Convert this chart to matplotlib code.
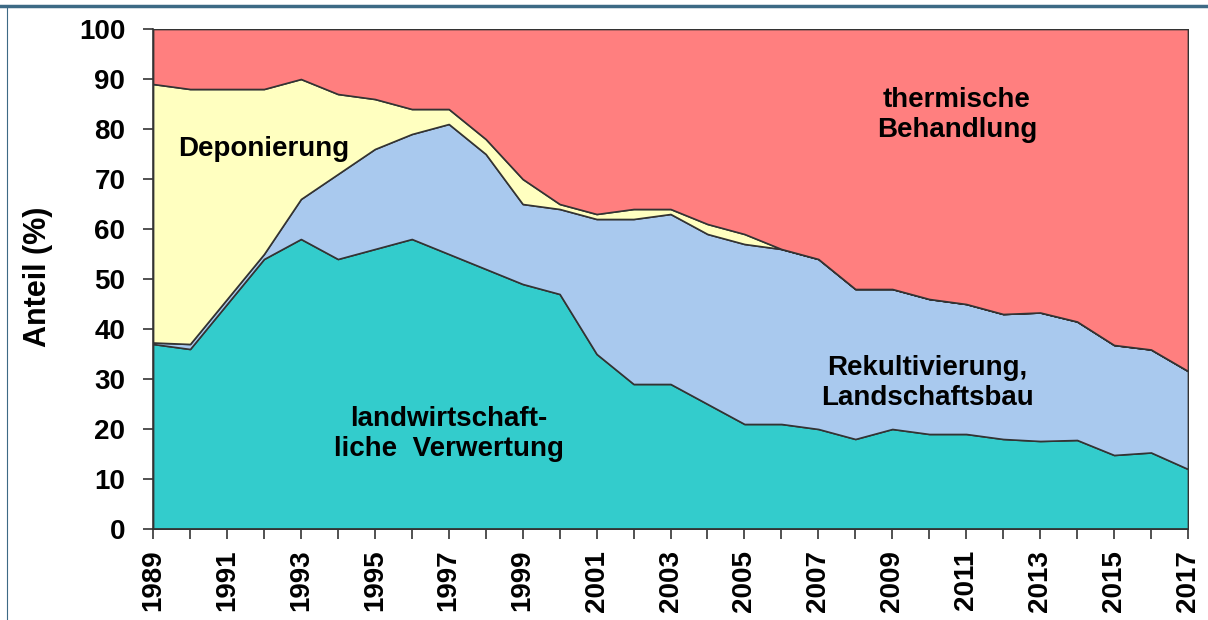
import matplotlib.pyplot as plt
from matplotlib.lines import Line2D

plt.rcParams['font.family'] = ['Liberation Sans', 'DejaVu Sans']
plt.rcParams['font.weight'] = 'bold'

# Anteil (%) per year
years = list(range(1989, 2018))
landwirtschaft = [37, 36, 45, 54, 58, 54, 56, 58, 55, 52, 49, 47, 35, 29, 29, 25, 21, 21, 20, 18,
                  20, 19, 19, 18, 17.6, 17.8, 14.8, 15.3, 12]
rekultivierung = [0.3, 1, 1, 1, 8, 17, 20, 21, 26, 23, 16, 17, 27, 33, 34, 34, 36, 35, 34, 30,
                  28, 27, 26, 25, 25.7, 23.7, 22, 20.6, 19.6]
deponierung = [51.7, 51, 42, 33, 24, 16, 10, 5, 3, 3, 5, 1, 1, 2, 1, 2, 2, 0, 0, 0,
               0, 0, 0, 0, 0, 0, 0, 0, 0]
thermisch = [11, 12, 12, 12, 10, 13, 14, 16, 16, 22, 30, 35, 37, 36, 36, 39, 41, 44, 46, 52,
             52, 54, 55, 57, 56.7, 58.5, 63.2, 64.1, 68.4]

colors = ['#33cccc', '#a9c9ee', '#ffffc0', '#ff7f7f']

fig = plt.figure(figsize=(12.08, 6.20), dpi=100)
ax = fig.add_axes([0.1267, 0.1468, 0.8567, 0.8064])

ax.stackplot(years, landwirtschaft, rekultivierung, deponierung, thermisch,
             colors=colors, edgecolor='#333333', linewidth=1.2)

ax.set_xlim(1989, 2017)
ax.set_ylim(0, 100)
ax.set_yticks(range(0, 101, 10))
ax.set_xticks(years, minor=True)
ax.set_xticks(range(1989, 2018, 2))
ax.set_xticklabels([str(y) for y in range(1989, 2018, 2)], rotation=90)

for s in ['top', 'right']:
    ax.spines[s].set_visible(False)
for s in ['left', 'bottom']:
    ax.spines[s].set_color('#333333')
    ax.spines[s].set_linewidth(1.2)

ax.tick_params(axis='y', direction='out', length=7, width=1.2, color='#333333',
               labelsize=20, pad=13)
ax.tick_params(axis='x', which='both', direction='out', length=7, width=1.2, color='#333333',
               labelsize=20, pad=8)
for lbl in ax.get_xticklabels() + ax.get_yticklabels():
    lbl.set_fontweight('bold')

ax.set_ylabel('Anteil (%)', fontsize=22, fontweight='bold')
ax.yaxis.set_label_coords(-0.097, 0.504)

ax.text(1992.0, 76.0, 'Deponierung', fontsize=20, fontweight='bold', ha='center', va='center')
ax.text(2010.75, 82.8, 'thermische\nBehandlung', fontsize=20, fontweight='bold',
        ha='center', va='center', linespacing=1.2)
ax.text(2009.95, 29.2, 'Rekultivierung,\nLandschaftsbau', fontsize=20, fontweight='bold',
        ha='center', va='center', linespacing=1.2)
ax.text(1997.0, 19.0, 'landwirtschaft-\nliche  Verwertung', fontsize=20, fontweight='bold',
        ha='center', va='center', linespacing=1.2)

# frame lines of the original slide
fig.add_artist(Line2D([0, 1], [0.9903, 0.9903], transform=fig.transFigure,
                      color='#3d6a85', linewidth=2.5))
fig.add_artist(Line2D([0.0058, 0.0058], [0, 0.99], transform=fig.transFigure,
                      color='#3d6a85', linewidth=0.8))

fig.savefig('out.png', dpi=100)
